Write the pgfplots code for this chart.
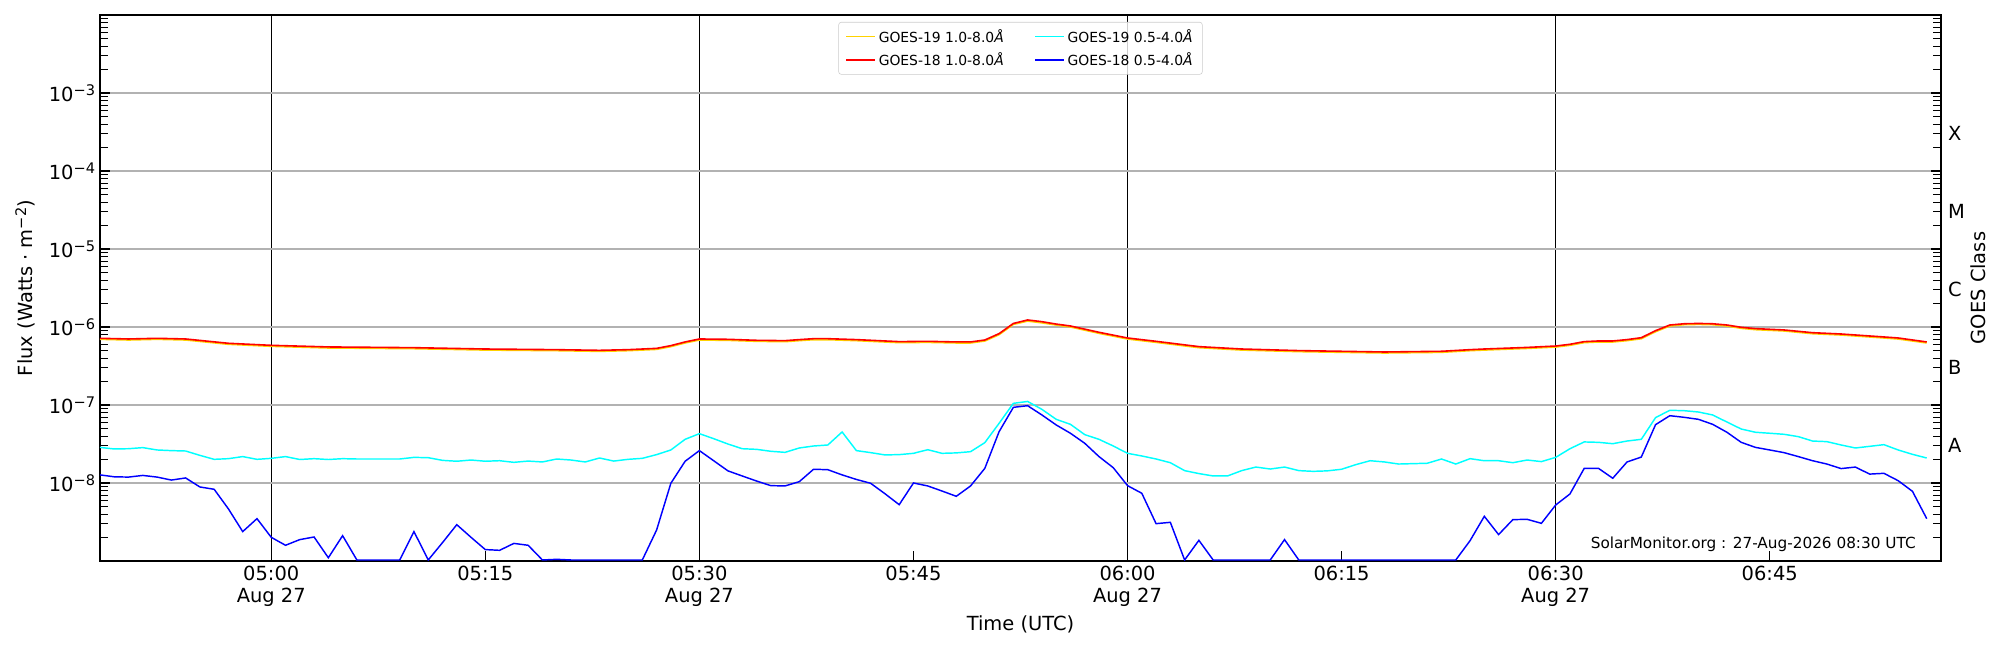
\documentclass[border=0pt]{standalone}
\usepackage{fontspec}
\setmainfont{DejaVu Sans}
\usepackage{pgfplots}
\usepackage{pgfplotstable}
\pgfplotsset{compat=1.18}
\definecolor{goesyellow}{HTML}{FFD200}
\definecolor{goescyan}{RGB}{0,255,255}
\definecolor{goesblue}{RGB}{0,0,255}
\definecolor{goesred}{RGB}{255,0,0}
\newcommand{\sexp}[1]{\raisebox{4.2pt}{\fontsize{10.5}{10.5}\selectfont #1}}
\newcommand{\fs}[1]{\fontsize{#1}{#1}\selectfont}

\pgfplotstableread{
x y
48 7.16e-7
50 7.02e-7
52 7.16e-7
54 7.02e-7
57 6.18e-7
60 5.82e-7
64 5.55e-7
70 5.43e-7
75 5.22e-7
80 5.12e-7
83 5.02e-7
85 5.12e-7
87 5.32e-7
88 5.77e-7
89 6.43e-7
90 7.02e-7
92 6.95e-7
94 6.75e-7
96 6.68e-7
97 6.89e-7
98 7.08e-7
99 7.08e-7
101 6.89e-7
103 6.62e-7
104 6.49e-7
106 6.55e-7
108 6.43e-7
109 6.43e-7
110 6.81e-7
111 8.22e-7
112 1.11e-6
113 1.23e-6
114 1.17e-6
115 1.09e-6
116 1.03e-6
118 8.55e-7
120 7.23e-7
122 6.55e-7
125 5.60e-7
128 5.22e-7
132 4.98e-7
138 4.78e-7
142 4.88e-7
144 5.12e-7
145 5.22e-7
148 5.47e-7
150 5.70e-7
151 6.00e-7
152 6.49e-7
153 6.62e-7
154 6.62e-7
155 6.89e-7
156 7.29e-7
157 8.97e-7
158 1.06e-6
159 1.10e-6
160 1.11e-6
161 1.10e-6
162 1.06e-6
163 9.91e-7
164 9.53e-7
166 9.16e-7
168 8.45e-7
170 8.13e-7
173 7.45e-7
174 7.23e-7
176 6.43e-7
}\redtab

\pgfplotstableread{
x y
48 6.95e-7
50 6.81e-7
52 6.95e-7
54 6.81e-7
57 6.00e-7
60 5.65e-7
64 5.38e-7
70 5.27e-7
75 5.06e-7
80 4.97e-7
83 4.87e-7
85 4.97e-7
87 5.16e-7
88 5.60e-7
89 6.24e-7
90 6.81e-7
92 6.74e-7
94 6.55e-7
96 6.48e-7
97 6.68e-7
98 6.87e-7
99 6.87e-7
101 6.68e-7
103 6.42e-7
104 6.30e-7
106 6.35e-7
108 6.24e-7
109 6.24e-7
110 6.61e-7
111 7.97e-7
112 1.08e-6
113 1.19e-6
114 1.13e-6
115 1.06e-6
116 1.00e-6
118 8.29e-7
120 7.01e-7
122 6.35e-7
125 5.43e-7
128 5.06e-7
132 4.83e-7
138 4.64e-7
142 4.73e-7
144 4.97e-7
145 5.06e-7
148 5.31e-7
150 5.53e-7
151 5.82e-7
152 6.30e-7
153 6.42e-7
154 6.42e-7
155 6.68e-7
156 7.07e-7
157 8.70e-7
158 1.03e-6
159 1.07e-6
160 1.08e-6
161 1.07e-6
162 1.03e-6
163 9.61e-7
164 9.24e-7
166 8.89e-7
168 8.20e-7
170 7.89e-7
173 7.23e-7
174 7.01e-7
176 6.24e-7
}\yellowtab

\pgfplotstableread{
x y
48 2.86e-8
49 2.73e-8
50 2.75e-8
51 2.84e-8
52 2.65e-8
53 2.60e-8
54 2.57e-8
55 2.26e-8
56 2.01e-8
57 2.05e-8
58 2.18e-8
59 2.01e-8
60 2.07e-8
61 2.18e-8
62 2.00e-8
63 2.05e-8
64 2.00e-8
65 2.05e-8
66 2.03e-8
67 2.03e-8
68 2.03e-8
69 2.03e-8
70 2.13e-8
71 2.11e-8
72 1.95e-8
73 1.90e-8
74 1.97e-8
75 1.90e-8
76 1.93e-8
77 1.84e-8
78 1.91e-8
79 1.86e-8
80 2.03e-8
81 1.97e-8
82 1.86e-8
83 2.09e-8
84 1.91e-8
85 2.01e-8
86 2.07e-8
87 2.31e-8
88 2.65e-8
89 3.63e-8
90 4.29e-8
91 3.70e-8
92 3.16e-8
93 2.75e-8
94 2.70e-8
95 2.55e-8
96 2.47e-8
97 2.81e-8
98 2.98e-8
99 3.07e-8
100 4.51e-8
101 2.60e-8
102 2.45e-8
103 2.29e-8
104 2.31e-8
105 2.40e-8
106 2.67e-8
107 2.40e-8
108 2.43e-8
109 2.52e-8
110 3.29e-8
111 5.82e-8
112 1.05e-7
113 1.11e-7
114 8.79e-8
115 6.55e-8
116 5.65e-8
117 4.17e-8
118 3.63e-8
119 2.98e-8
120 2.40e-8
121 2.22e-8
122 2.03e-8
123 1.82e-8
124 1.44e-8
125 1.32e-8
126 1.23e-8
127 1.23e-8
128 1.44e-8
129 1.60e-8
130 1.51e-8
131 1.60e-8
132 1.44e-8
133 1.41e-8
134 1.43e-8
135 1.50e-8
136 1.72e-8
137 1.93e-8
138 1.86e-8
139 1.75e-8
140 1.77e-8
141 1.79e-8
142 2.03e-8
143 1.75e-8
144 2.05e-8
145 1.93e-8
146 1.93e-8
147 1.82e-8
148 1.97e-8
149 1.88e-8
150 2.13e-8
151 2.75e-8
152 3.36e-8
153 3.32e-8
154 3.19e-8
155 3.45e-8
156 3.63e-8
157 6.89e-8
158 8.55e-8
159 8.45e-8
160 8.13e-8
161 7.45e-8
162 6.05e-8
163 4.92e-8
164 4.47e-8
165 4.34e-8
166 4.21e-8
167 3.93e-8
168 3.45e-8
169 3.39e-8
170 3.07e-8
171 2.81e-8
172 2.95e-8
173 3.10e-8
174 2.65e-8
175 2.33e-8
176 2.09e-8
}\cyantab

\pgfplotstableread{
x y
48 1.27e-8
49 1.20e-8
50 1.19e-8
51 1.25e-8
52 1.19e-8
53 1.09e-8
54 1.16e-8
55 8.89e-9
56 8.30e-9
57 4.65e-9
58 2.38e-9
59 3.49e-9
60 2.01e-9
61 1.59e-9
62 1.88e-9
63 2.03e-9
64 1.10e-9
65 2.11e-9
66 1.03e-9
67 1.03e-9
68 1.03e-9
69 1.03e-9
70 2.38e-9
71 1.03e-9
72 1.72e-9
73 2.92e-9
74 2.01e-9
75 1.40e-9
76 1.37e-9
77 1.68e-9
78 1.59e-9
79 1.03e-9
80 1.05e-9
81 1.03e-9
82 1.03e-9
83 1.03e-9
84 1.03e-9
85 1.03e-9
86 1.03e-9
87 2.49e-9
88 9.91e-9
89 1.90e-8
90 2.60e-8
91 1.93e-8
92 1.43e-8
93 1.23e-8
94 1.06e-8
95 9.25e-9
96 9.16e-9
97 1.04e-8
98 1.50e-8
99 1.48e-8
100 1.27e-8
101 1.11e-8
102 9.91e-9
103 7.29e-9
104 5.27e-9
105 1.00e-8
106 9.16e-9
107 7.89e-9
108 6.75e-9
109 9.16e-9
110 1.54e-8
111 4.55e-8
112 9.33e-8
113 9.79e-8
114 7.45e-8
115 5.55e-8
116 4.34e-8
117 3.23e-8
118 2.18e-8
119 1.57e-8
120 9.25e-9
121 7.38e-9
122 3.01e-9
123 3.13e-9
124 1.03e-9
125 1.84e-9
126 1.03e-9
127 1.03e-9
128 1.03e-9
129 1.03e-9
130 1.03e-9
131 1.88e-9
132 1.03e-9
133 1.03e-9
134 1.03e-9
135 1.03e-9
136 1.03e-9
137 1.03e-9
138 1.03e-9
139 1.03e-9
140 1.03e-9
141 1.03e-9
142 1.03e-9
143 1.03e-9
144 1.82e-9
145 3.74e-9
146 2.18e-9
147 3.39e-9
148 3.42e-9
149 3.04e-9
150 5.22e-9
151 7.23e-9
152 1.54e-8
153 1.54e-8
154 1.15e-8
155 1.86e-8
156 2.15e-8
157 5.60e-8
158 7.29e-8
159 6.95e-8
160 6.55e-8
161 5.65e-8
162 4.47e-8
163 3.32e-8
164 2.86e-8
165 2.65e-8
166 2.45e-8
167 2.18e-8
168 1.93e-8
169 1.75e-8
170 1.53e-8
171 1.60e-8
172 1.30e-8
173 1.33e-8
174 1.07e-8
175 7.82e-9
176 3.49e-9
}\bluetab

\begin{document}
\begin{tikzpicture}
\begin{axis}[
  name=main,
  width=1325.5pt, height=393.1pt, scale only axis,
  at={(0,0)}, anchor=south west,
  xmin=48, xmax=177,
  ymode=log, ymin=1e-9, ymax=1e-2,
  xtick={60,90,120,150},
  xticklabels={{05:00\\Aug 27},{05:30\\Aug 27},{06:00\\Aug 27},{06:30\\Aug 27}},
  extra x ticks={75,105,135,165},
  extra x tick labels={05:15,05:45,06:15,06:45},
  extra x tick style={grid=none},
  ytick={1e-8,1e-7,1e-6,1e-5,1e-4,1e-3},
  yticklabels={10\sexp{−8},10\sexp{−7},10\sexp{−6},10\sexp{−5},10\sexp{−4},10\sexp{−3}},
  minor ytick={2e-9,3e-9,4e-9,5e-9,6e-9,7e-9,8e-9,9e-9,
    2e-8,3e-8,4e-8,5e-8,6e-8,7e-8,8e-8,9e-8,
    2e-7,3e-7,4e-7,5e-7,6e-7,7e-7,8e-7,9e-7,
    2e-6,3e-6,4e-6,5e-6,6e-6,7e-6,8e-6,9e-6,
    2e-5,3e-5,4e-5,5e-5,6e-5,7e-5,8e-5,9e-5,
    2e-4,3e-4,4e-4,5e-4,6e-4,7e-4,8e-4,9e-4,
    2e-3,3e-3,4e-3,5e-3,6e-3,7e-3,8e-3,9e-3},
  grid=major,
  x grid style={black, line width=1.0pt},
  y grid style={color=black!30, line width=0.8pt},
  tick align=inside,
  xtick pos=left, ytick pos=both,
  major tick length=7.5pt, minor tick length=5.5pt,
  every tick/.style={black, line width=0.8pt},
  minor tick style={black, line width=0.7pt},
  axis line style={line width=1.1pt},
  xticklabel style={font=\fontsize{14}{16}\selectfont, align=center},
  yticklabel style={font=\fs{14}},
  every axis y label/.style={at={(rel axis cs:0,0.5)}, xshift=-54pt, rotate=90, anchor=center, font=\fs{14}},
  every axis x label/.style={at={(rel axis cs:0.5,0)}, yshift=-45.5pt, anchor=center, font=\fs{14}},
  ylabel={Flux (Watts · m\sexp{−2})},
  xlabel={Time (UTC)},
  legend columns=2,
  legend cell align=left,
  legend style={at={(rel axis cs:0.5,1)}, anchor=north, yshift=-5pt,
    font=\fontsize{10}{12}\selectfont, draw=black!20, rounded corners=2pt,
    fill=white, fill opacity=0.8, text opacity=1, draw opacity=1,
    inner xsep=5pt, inner ysep=3pt, row sep=2pt,
    /tikz/every even column/.append style={column sep=20pt}},
  legend image code/.code={\draw[#1] (0pt,0pt) -- (21pt,0pt);},
]
\addplot[color=goesyellow, line width=1.15pt, forget plot] table[x=x,y=y] {\yellowtab};
\addplot[color=goesred, line width=1.15pt, forget plot] table[x=x,y=y] {\redtab};
\addplot[color=goescyan, line width=1.05pt, forget plot] table[x=x,y=y] {\cyantab};
\addplot[color=goesblue, line width=1.05pt, forget plot] table[x=x,y=y] {\bluetab};
\addlegendimage{color=goesyellow, line width=0.9pt}
\addlegendentry{GOES-19 1.0-8.0\textit{Å}}
\addlegendimage{color=goescyan, line width=0.9pt}
\addlegendentry{GOES-19 0.5-4.0\textit{Å}}
\addlegendimage{color=goesred, line width=0.9pt}
\addlegendentry{GOES-18 1.0-8.0\textit{Å}}
\addlegendimage{color=goesblue, line width=0.9pt}
\addlegendentry{GOES-18 0.5-4.0\textit{Å}}
\node[anchor=base east, inner sep=0pt, font=\fs{11}] at (rel axis cs:0.9864,0.0233) {SolarMonitor.org : 27-Aug-2026 08:30 UTC};
\end{axis}
\begin{axis}[
  width=1325.5pt, height=393.1pt, scale only axis,
  at={(0,0)}, anchor=south west,
  xmin=48, xmax=177,
  ymode=log, ymin=1e-9, ymax=1e-2,
  xtick=\empty,
  ytick={3e-8,3e-7,3e-6,3e-5,3e-4},
  yticklabels={A,B,C,M,X},
  minor ytick={},
  ytick pos=right, yticklabel pos=right,
  major tick length=0pt, minor tick length=0pt,
  axis line style={draw=none},
  yticklabel style={font=\fs{14}, anchor=west, inner sep=0pt, xshift=5pt},
  every axis y label/.style={at={(rel axis cs:1,0.5)}, xshift=26.6pt, rotate=90, anchor=center, font=\fs{14}},
  ylabel={GOES Class},
]
\end{axis}
\pgfresetboundingbox
\path[use as bounding box] (-72pt,-64.1pt) rectangle (1368pt,403.9pt);
\end{tikzpicture}
\end{document}
